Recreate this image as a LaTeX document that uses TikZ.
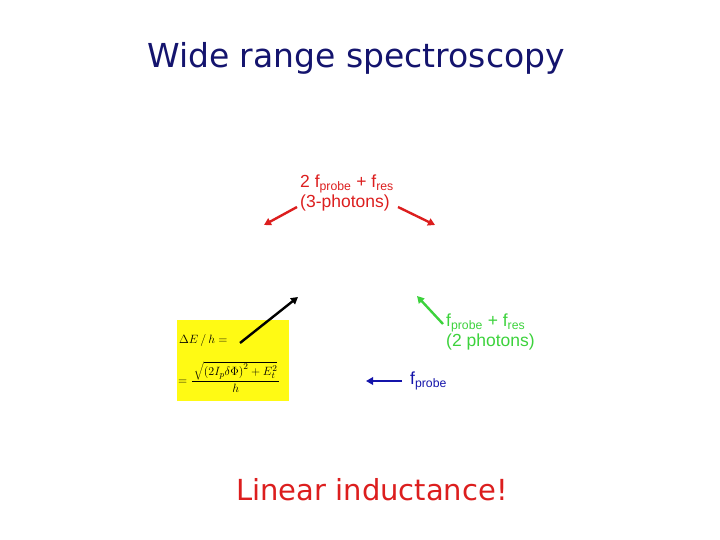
\documentclass[tikz,border=0pt]{standalone}
\usepackage{fontspec}
\setmainfont{Liberation Sans}
\newfontfamily\titlefont{DejaVu Sans}
\usetikzlibrary{arrows.meta}
\definecolor{navy}{RGB}{20,20,110}
\definecolor{myred}{RGB}{220,30,30}
\definecolor{mygreen}{RGB}{60,210,60}
\definecolor{myblue}{RGB}{20,20,170}
\definecolor{myyellow}{RGB}{255,250,20}
\tikzset{
  lbl/.style={inner sep=0pt, anchor=west, align=left, font=\fontsize{17.5}{20}\selectfont},
  arr/.style={line width=2.4pt, -{Triangle[length=7pt,width=7.5pt]}},
}
\begin{document}
\begin{tikzpicture}[x=1pt,y=-1pt]
\useasboundingbox (0,0) rectangle (720,540);
\node[font=\titlefont\fontsize{33}{38}\selectfont, text=navy] (title) at (356,58) {Wide range spectroscopy};
% red 3-photon
\node[lbl, text=myred] (three) at (300,193) {2 f\textsubscript{probe} + f\textsubscript{res}\\(3-photons)};
\coordinate (r1s) at (297,207);
\coordinate (r1e) at (264,225);
\coordinate (r2s) at (398,207);
\coordinate (r2e) at (435,225);
\draw[arr, myred] (r1s) -- (r1e);
\draw[arr, myred] (r2s) -- (r2e);
% yellow box
\node[fill=myyellow, minimum width=112pt, minimum height=81pt, inner sep=0pt] (box) at (233,360) {};
\node[anchor=west, inner sep=0pt, font=\fontsize{13}{15}\selectfont] (eq1) at (179,340) {$\Delta E\,/\,h =$};
\node[anchor=west, inner sep=0pt, font=\fontsize{13}{15}\selectfont] (eq2) at (178,377) {$=\displaystyle\frac{\,\sqrt{\left(2I_p\delta\Phi\right)^2+E_t^2}\,}{h}$};
\coordinate (bks) at (240,343);
\coordinate (bke) at (298,297);
\draw[line width=2.4pt, black, -{Triangle[length=7pt,width=7.5pt]}] (bks) -- (bke);
% green
\node[lbl, text=mygreen] (two) at (446,332) {f\textsubscript{probe} + f\textsubscript{res}\\(2 photons)};
\coordinate (gs) at (443,324);
\coordinate (ge) at (417,296);
\draw[arr, mygreen] (gs) -- (ge);
% blue
\node[lbl, text=myblue] (one) at (410,381) {f\textsubscript{probe}};
\coordinate (bs) at (402,381);
\coordinate (be) at (366,381);
\draw[arr, myblue] (bs) -- (be);
\node[font=\titlefont\fontsize{29}{34}\selectfont, text=myred] (lin) at (372,490) {Linear inductance!};
\end{tikzpicture}
\end{document}
